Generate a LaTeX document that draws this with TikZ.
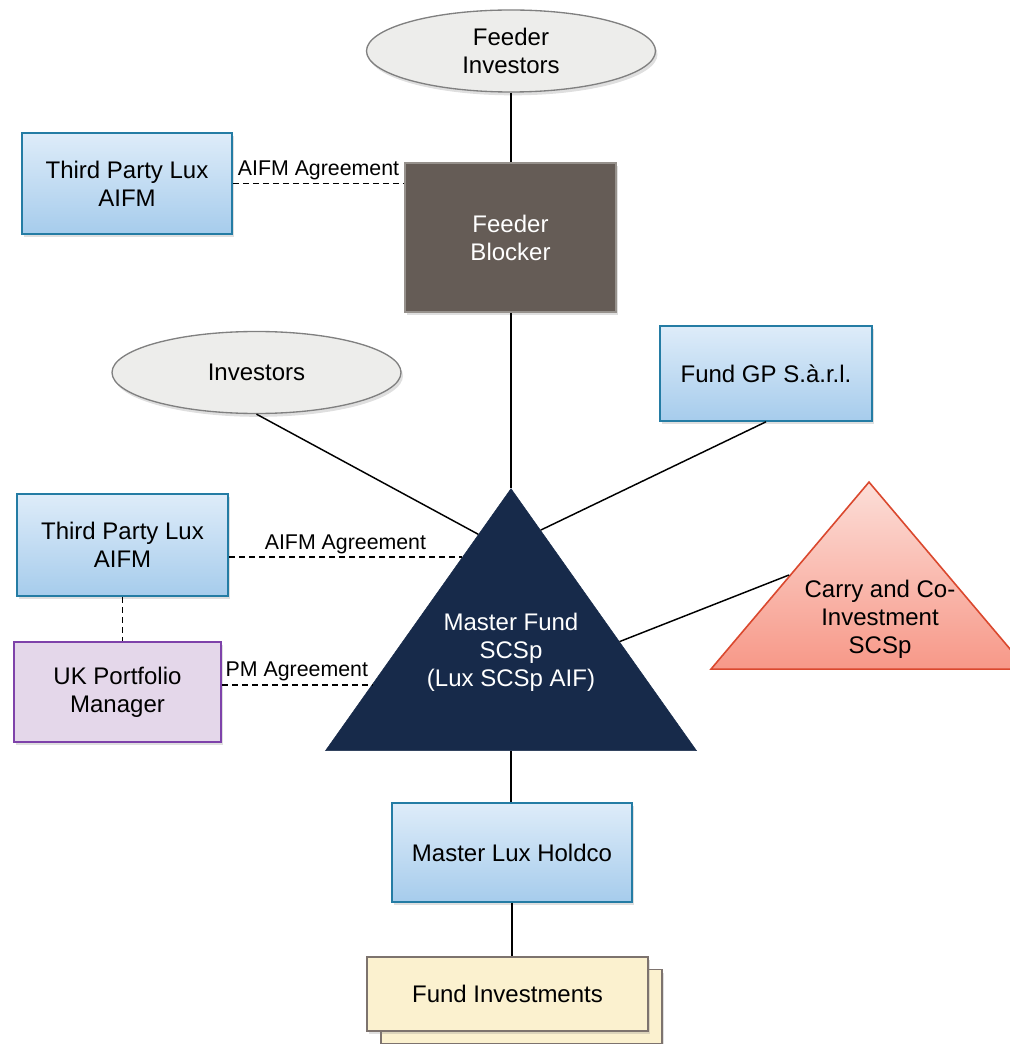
\documentclass[tikz,border=0pt]{standalone}
\usepackage{fontspec}
\setmainfont{Liberation Sans}
\usetikzlibrary{shapes.geometric, shadows, calc}

\definecolor{boxtop}{RGB}{222,236,249}
\definecolor{boxbot}{RGB}{166,204,236}
\definecolor{boxline}{RGB}{36,124,164}
\definecolor{ellfill}{RGB}{237,237,235}
\definecolor{ellline}{RGB}{128,128,128}
\definecolor{blockfill}{RGB}{101,92,86}
\definecolor{blockline}{RGB}{150,145,140}
\definecolor{navy}{RGB}{23,42,74}
\definecolor{carrytop}{RGB}{252,222,216}
\definecolor{carrybot}{RGB}{247,152,136}
\definecolor{carryline}{RGB}{218,72,46}
\definecolor{pmfill}{RGB}{228,215,234}
\definecolor{pmline}{RGB}{126,66,170}
\definecolor{invfill}{RGB}{251,241,207}
\definecolor{invline}{RGB}{125,115,110}

\begin{document}
\begin{tikzpicture}[x=0.75pt, y=-0.75pt]

\tikzset{txt/.style = {align=center, font=\fontsize{18}{21}\selectfont}}
\tikzset{shade/.style = {drop shadow={shadow xshift=1.5pt, shadow yshift=-2.5pt, opacity=0.25}}}
\tikzset{bluebox/.style = {txt, shade, rectangle, draw=boxline, line width=1.2pt, top color=boxtop, bottom color=boxbot, inner sep=0pt}}
\tikzset{ellip/.style = {txt, shade, ellipse, draw=ellline, line width=1pt, fill=ellfill, inner sep=0pt, minimum width=216.75pt, minimum height=61.5pt}}
\tikzset{tri/.style = {isosceles triangle, isosceles triangle stretches, shape border rotate=90, inner sep=0pt, anchor=apex}}
\tikzset{edge/.style = {line width=1.1pt}}
\tikzset{deal/.style = {line width=1.3pt, dash pattern=on 4.5pt off 3pt}}
\tikzset{lbl/.style = {midway, above, inner sep=2pt, font=\fontsize{16}{18}\selectfont}}

\useasboundingbox (0,0) rectangle (1009,1044);

%entities
\node[ellip] (fi) at (511,51) {Feeder\\Investors};
\node[bluebox, minimum width=157.5pt, minimum height=75.75pt] (aifmA) at (127,183.5) {Third Party Lux\\AIFM};
\node[txt, shade, rectangle, draw=blockline, line width=1.2pt, fill=blockfill, text=white, minimum width=158.25pt, minimum height=111.75pt] (blocker) at (510.5,237.5) {Feeder\\Blocker};
\node[ellip] (inv) at (256.5,372.5) {Investors};
\node[bluebox, minimum width=159pt, minimum height=71.25pt] (gp) at (766,373.5) {Fund GP S.à.r.l.};
\node[tri, draw=navy, fill=navy, minimum width=278.25pt, minimum height=196.5pt] (master) at (511,488) {};
\node[txt, text=white] (mastertxt) at (511,652) {Master Fund\\SCSp\\(Lux SCSp AIF)};
\node[tri, draw=carryline, line width=1.2pt, top color=carrytop, bottom color=carrybot, minimum width=237pt, minimum height=140.25pt] (carry) at (869,480) {};
\node[txt] (carrytxt) at (880,619) {Carry and Co-\\Investment\\SCSp};
\node[bluebox, minimum width=158.25pt, minimum height=76.5pt] (aifmB) at (122.5,545) {Third Party Lux\\AIFM};
\node[txt, shade, rectangle, draw=pmline, line width=1.2pt, fill=pmfill, minimum width=155.25pt, minimum height=75pt] (ukpm) at (117.5,692) {UK Portfolio\\Manager};
\node[bluebox, minimum width=180pt, minimum height=74.25pt] (holdco) at (512,852.5) {Master Lux Holdco};
\node[shade, rectangle, draw=invline, line width=1.2pt, fill=invfill, minimum width=210.75pt, minimum height=55.5pt] (fundback) at (521.5,1006.5) {};
\node[txt, shade, rectangle, draw=invline, line width=1.2pt, fill=invfill, minimum width=210.75pt, minimum height=55.5pt] (fundinv) at (507.5,994) {Fund Investments};

%points on the master fund
\coordinate (mInv) at ($(master.apex)!0.176!(master.left corner)$);
\coordinate (mGp) at ($(master.apex)!0.160!(master.right corner)$);
\coordinate (mAifm) at ($(master.apex)!0.263!(master.left corner)$);
\coordinate (mPm) at ($(master.apex)!0.748!(master.left corner)$);
\coordinate (mCarry) at ($(master.apex)!0.584!(master.right corner)$);
\coordinate (mBase) at ($(master.left corner)!0.5!(master.right corner)$);

%ownership
\draw[edge] (fi) -- (fi |- blocker.north);
\draw[edge] (master.apex |- blocker.south) -- (master.apex);
\draw[edge] (inv.south) -- (mInv);
\draw[edge] (gp.south) -- (mGp);
\draw[edge] (mCarry) -- (carry.left side);
\draw[edge] (mBase) -- (mBase |- holdco.north);
\draw[edge] (holdco.south) -- (holdco.south |- fundinv.north);

%agreements
\draw[deal] (aifmA.east) -- (aifmA.east -| blocker.west) node[lbl] (lblA) {AIFM Agreement};
\draw[deal] (mAifm -| aifmB.east) -- (mAifm) node[lbl] (lblB) {AIFM Agreement};
\draw[deal] (aifmB.south) -- (aifmB.south |- ukpm.north);
\draw[deal] (mPm -| ukpm.east) -- (mPm) node[lbl] (lblPm) {PM Agreement};

\end{tikzpicture}
\end{document}
